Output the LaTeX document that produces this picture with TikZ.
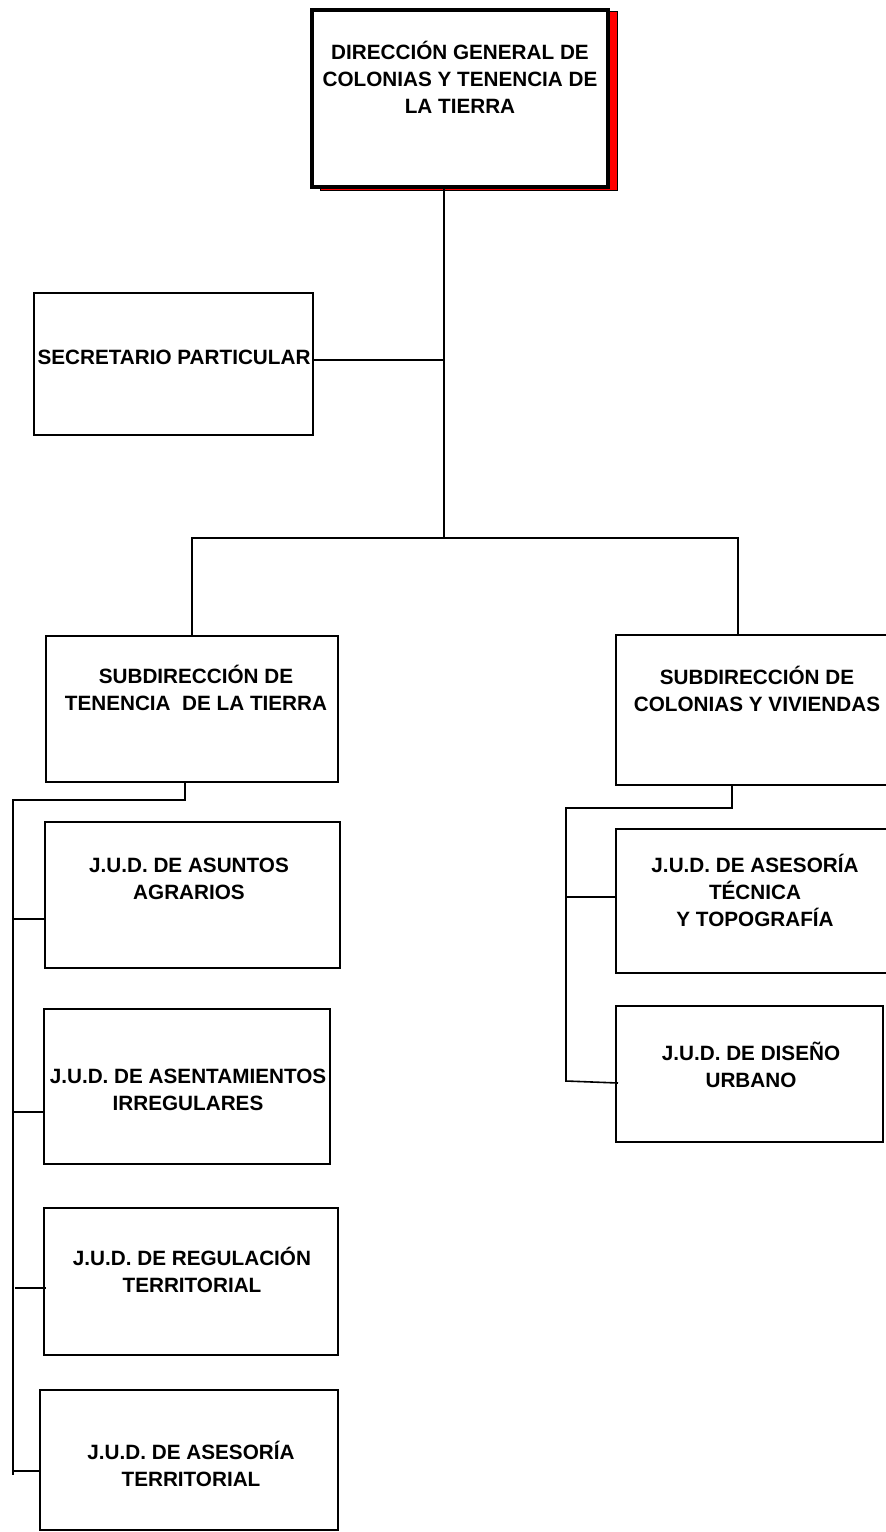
\documentclass[tikz,border=0pt]{standalone}
\usepackage{fontspec}
\setmainfont{Liberation Sans}
\begin{document}
\begin{tikzpicture}[x=1pt,y=-1pt,
  box/.style={draw=black, line width=1.6pt, fill=white, inner sep=0pt, anchor=north west},
  headbox/.style={box, line width=3.6pt},
  shadowbox/.style={draw=black, line width=0.8pt, fill=red, inner sep=0pt, anchor=north west},
  lbl/.style={font=\bfseries\fontsize{20.7}{27}\selectfont, align=center, anchor=base, inner sep=0pt},
  link/.style={draw=black, line width=1.6pt}]
\useasboundingbox (0,0) rectangle (886,1532);

% --- boxes ---
\node[shadowbox, minimum width=297, minimum height=179] (dgshadow) at (320,11) {};
\node[headbox, minimum width=296, minimum height=177] (dg) at (310,8) {};
\node[box, minimum width=279, minimum height=142] (sp) at (33,292) {};
\node[box, minimum width=292, minimum height=146] (st) at (45,635) {};
\node[box, minimum width=275, minimum height=150] (sc) at (615,634) {};
\node[box, minimum width=295, minimum height=146] (j1) at (44,821) {};
\node[box, minimum width=286, minimum height=155] (j2) at (43,1008) {};
\node[box, minimum width=294, minimum height=147] (j3) at (43,1207) {};
\node[box, minimum width=298, minimum height=140] (j4) at (39,1389) {};
\node[box, minimum width=275, minimum height=144] (k1) at (615,828) {};
\node[box, minimum width=267, minimum height=136] (k2) at (615,1005) {};

% --- junction points ---
\coordinate (hub) at (444,538);
\coordinate (lbar) at (192,538);
\coordinate (rbar) at (738,538);
\coordinate (stdrop) at (185,800);
\coordinate (ltrunk) at (13,800);
\coordinate (ltrunkend) at (13,1475);
\coordinate (scdrop) at (732,808);
\coordinate (rtrunk) at (566,808);
\coordinate (rtrunkend) at (566,1081);

% --- connectors ---
\draw[link] (dg.south -| hub) -- (hub);
\draw[link] (sp.east |- 0,360) -- (hub |- 0,360);
\draw[link] (st.north -| lbar) -- (lbar) -- (rbar) -- (sc.north -| rbar);
\draw[link] (st.south -| stdrop) -- (stdrop) -- (ltrunk) -- (ltrunkend);
\draw[link] (ltrunk |- 0,919) -- (j1.west |- 0,919);
\draw[link] (ltrunk |- 0,1112) -- (j2.west |- 0,1112);
\draw[link] ([xshift=2pt]ltrunk |- 0,1288) -- ([xshift=3pt]j3.west |- 0,1288);
\draw[link] (ltrunk |- 0,1471) -- (j4.west |- 0,1471);
\draw[link] (sc.south -| scdrop) -- (scdrop) -- (rtrunk) -- (rtrunkend) -- ([xshift=3pt]k2.west |- 0,1083);
\draw[link] (rtrunk |- 0,897) -- (k1.west |- 0,897);

% --- labels (anchored at the baseline of the last line) ---
\node[lbl] (dgt) at (460,113) {DIRECCIÓN GENERAL DE\\COLONIAS Y TENENCIA DE\\LA TIERRA};
\node[lbl] (spt) at (174,364) {SECRETARIO PARTICULAR};
\node[lbl] (stt) at (196,710) {SUBDIRECCIÓN DE\\TENENCIA\ \ DE LA TIERRA};
\node[lbl] (sct) at (757,711) {SUBDIRECCIÓN DE\\COLONIAS Y VIVIENDAS};
\node[lbl] (j1t) at (189,899) {J.U.D. DE ASUNTOS\\AGRARIOS};
\node[lbl] (j2t) at (188,1110) {J.U.D. DE ASENTAMIENTOS\\IRREGULARES};
\node[lbl] (j3t) at (192,1292) {J.U.D. DE REGULACIÓN\\TERRITORIAL};
\node[lbl] (j4t) at (191,1486) {J.U.D. DE ASESORÍA\\TERRITORIAL};
\node[lbl] (k1t) at (755,926) {J.U.D. DE ASESORÍA\\TÉCNICA\\Y TOPOGRAFÍA};
\node[lbl] (k2t) at (751,1087) {J.U.D. DE DISEÑO\\URBANO};
\end{tikzpicture}
\end{document}
